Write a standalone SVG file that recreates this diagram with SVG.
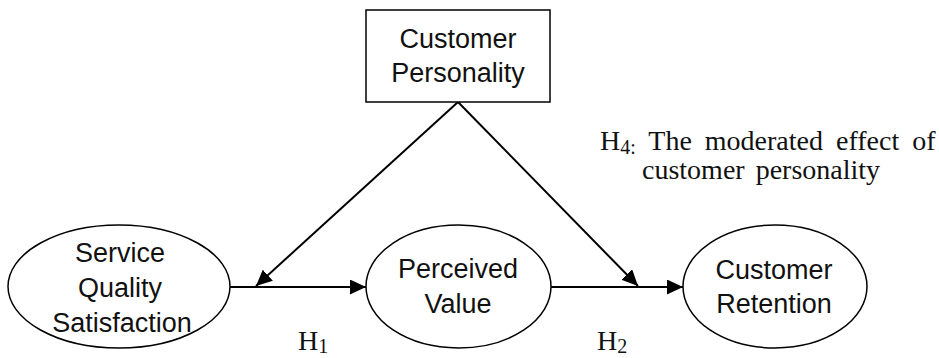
<svg xmlns="http://www.w3.org/2000/svg" width="939" height="358" viewBox="0 0 939 358">
<style>
.n{fill:#fff;stroke:#000;stroke-width:1.5}
.t{font-family:"Liberation Sans",Arial,sans-serif;font-size:27px;fill:#111;text-anchor:middle}
.s{font-family:"Liberation Serif","Times New Roman",serif;font-size:28px;fill:#111}
.c{stroke:#000;stroke-width:2;fill:none}
</style>
<defs>
<marker id="ah" markerUnits="userSpaceOnUse" markerWidth="17" markerHeight="15" refX="16" refY="7.5" orient="auto">
<path d="M0,0 L16,7.5 L0,15 z" fill="#000"/>
</marker>
</defs>
<rect width="939" height="358" fill="#fff"/>
<g id="connectors">
<line class="c" x1="230" y1="287" x2="366" y2="287" marker-end="url(#ah)"/>
<line class="c" x1="551" y1="287" x2="683" y2="287" marker-end="url(#ah)"/>
<line class="c" x1="458" y1="102" x2="256" y2="286" marker-end="url(#ah)"/>
<line class="c" x1="458" y1="102" x2="638" y2="286" marker-end="url(#ah)"/>
</g>
<g id="customer-personality">
<rect class="n" x="366" y="10" width="184" height="92"/>
<text class="t" x="458" y="48">Customer</text>
<text class="t" x="458" y="82">Personality</text>
</g>
<g id="service-quality">
<ellipse class="n" cx="119" cy="286.5" rx="111" ry="61.5"/>
<text class="t" x="120" y="262">Service</text>
<text class="t" x="120" y="297">Quality</text>
<text class="t" x="122" y="332">Satisfaction</text>
</g>
<g id="perceived-value">
<ellipse class="n" cx="458.5" cy="286.5" rx="92.5" ry="61.5"/>
<text class="t" x="458" y="278">Perceived</text>
<text class="t" x="458" y="313">Value</text>
</g>
<g id="customer-retention">
<ellipse class="n" cx="775" cy="286.5" rx="92" ry="61.5"/>
<text class="t" x="774" y="279">Customer</text>
<text class="t" x="774" y="313">Retention</text>
</g>
<g id="labels">
<text class="s" x="600" y="150">H<tspan font-size="20" dy="4">4:</tspan><tspan dy="-4" word-spacing="6"> The moderated effect of</tspan></text>
<text class="s" x="642" y="179" word-spacing="4">customer personality</text>
<text class="s" x="298" y="350">H<tspan font-size="20" dy="3">1</tspan></text>
<text class="s" x="597" y="350">H<tspan font-size="20" dy="3">2</tspan></text>
</g>
</svg>
